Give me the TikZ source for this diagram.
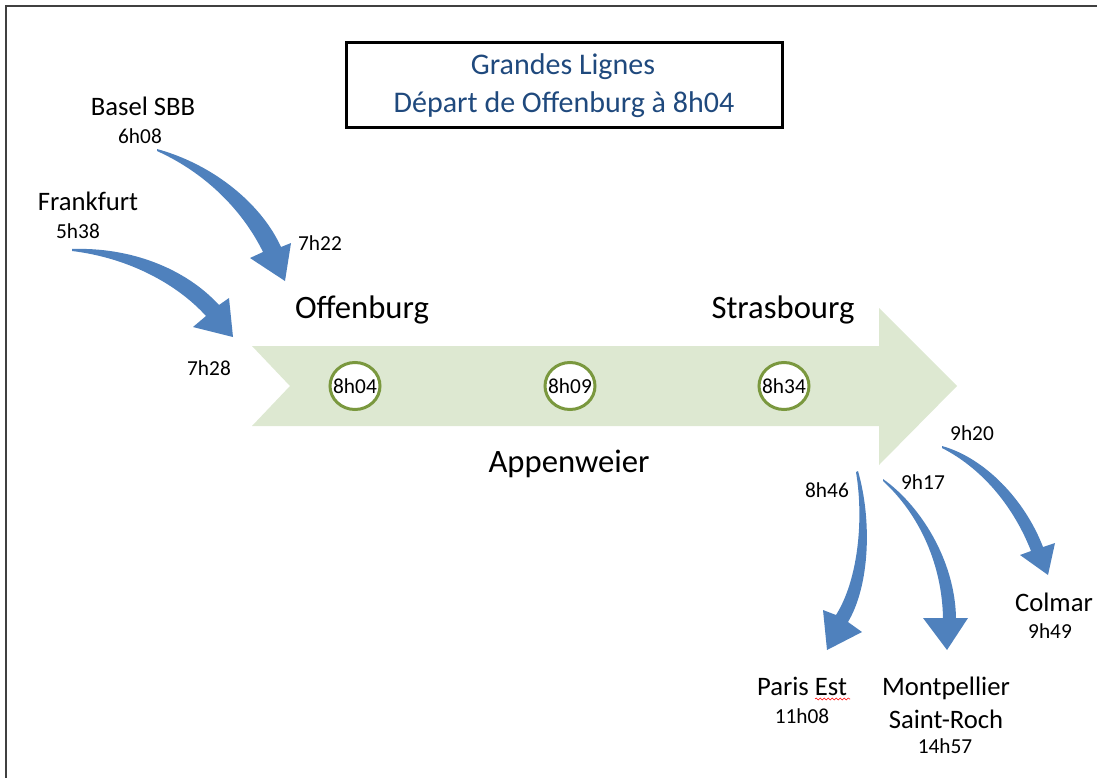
\documentclass[tikz,border=0pt]{standalone}
\usepackage{fontspec}
\setmainfont{Carlito}
\usetikzlibrary{decorations.pathmorphing}
\definecolor{railgreen}{RGB}{221,232,209}
\definecolor{ringgreen}{RGB}{122,152,62}
\definecolor{trainblue}{RGB}{79,129,189}
\definecolor{titleblue}{RGB}{31,73,125}

\begin{document}
\begin{tikzpicture}[x=0.75pt, y=-0.75pt,
  big/.style={anchor=base, inner sep=0pt, font=\fontsize{24.5}{29}\selectfont},
  city/.style={anchor=base, inner sep=0pt, font=\fontsize{20}{24}\selectfont},
  hour/.style={anchor=base, inner sep=0pt, font=\fontsize{16}{19}\selectfont},
  halt/.style={inner sep=0pt, font=\fontsize{16}{19}\selectfont},
  ring/.style={draw=ringgreen, line width=2.25pt, fill=white},
  fat/.style={fill=trainblue, draw=none}
]
\useasboundingbox (0,0) rectangle (1097,778);

% Frame
\draw[black!75, line width=1.5pt] (6,790) -- (6,5.5) -- (1110,5.5);

% Title
\draw[line width=2.25pt] (346,42) rectangle (782,127);
\node[anchor=base, inner sep=0pt, text=titleblue, font=\fontsize{22.5}{27}\selectfont] (title1) at (563,74) {Grandes Lignes};
\node[anchor=base, inner sep=0pt, text=titleblue, font=\fontsize{22.5}{27}\selectfont] (title2) at (564,112) {Départ de Offenburg à 8h04};

% Main line
\fill[railgreen] (252,346) -- (879,346) -- (879,308) -- (957,386) -- (879,465)
  -- (879,426) -- (252,426) -- (290,386) -- cycle;
\foreach \x/\name in {355/off, 570/app, 784/str}
  \draw[ring] (\x,386) ellipse [x radius=25, y radius=23.5];
\node[halt] (off) at (355,386) {8h04};
\node[halt] (app) at (570,386) {8h09};
\node[halt] (str) at (784,386) {8h34};
\node[big] (offname) at (362,318) {Offenburg};
\node[big] (strname) at (783,318) {Strasbourg};
\node[big] (appname) at (569,472) {Appenweier};

% Arrivals
\node[city] (basel) at (143,115) {Basel SBB};
\node[hour] (baseldep) at (140,143) {6h08};
\node[hour] (baselarr) at (320,250) {7h22};
\node[city] (frank) at (88,210) {Frankfurt};
\node[hour] (frankdep) at (78,238) {5h38};
\node[hour] (frankarr) at (209,375) {7h28};

% Basel SBB
\path[fat] (157,149) .. controls (215,165) and (262,205) .. (281,247) -- (291,243)
  -- (285,281) -- (250,258) -- (263,252) .. controls (245,215) and (210,175) .. (157,151) -- cycle;
% Frankfurt
\path[fat] (72,249) .. controls (130,247) and (185,268) .. (219,305) -- (229,298)
  -- (233,337) -- (193,327) -- (206,316) .. controls (178,285) and (130,258) .. (72,251) -- cycle;

% Departures
\node[hour] (parisdep) at (827,497) {8h46};
\node[hour] (montdep) at (923,489) {9h17};
\node[hour] (colmdep) at (972,440) {9h20};
\node[city] (paris) at (802,695) {Paris Est};
\node[hour] (parisarr) at (802,723) {11h08};
\node[city] (mont) at (946,695) {Montpellier};
\node[city] (mont2) at (946,728) {Saint-Roch};
\node[hour] (montarr) at (945,753) {14h57};
\node[city] (colm) at (1054,611) {Colmar};
\node[hour] (colmarr) at (1050,638) {9h49};
\draw[red, line width=0.4pt, decorate, decoration={snake, amplitude=0.8, segment length=3}]
  (815,699) -- (850,699);

% Paris Est
\path[fat] (858,471) .. controls (872,520) and (870,585) .. (848,622) -- (862,632)
  -- (827,650) -- (823,610) -- (836,615) .. controls (858,580) and (864,520) .. (856,472) -- cycle;
% Montpellier
\path[fat] (883,479) .. controls (920,505) and (955,560) .. (956,618) -- (968,618)
  -- (947,650) -- (923,618) -- (943,618) .. controls (942,565) and (920,515) .. (883,481) -- cycle;
% Colmar
\path[fat] (942,446) .. controls (985,458) and (1025,500) .. (1043,547) -- (1055,543)
  -- (1048,575) -- (1020,555) -- (1031,551) .. controls (1015,510) and (985,470) .. (942,448) -- cycle;
\end{tikzpicture}
\end{document}
